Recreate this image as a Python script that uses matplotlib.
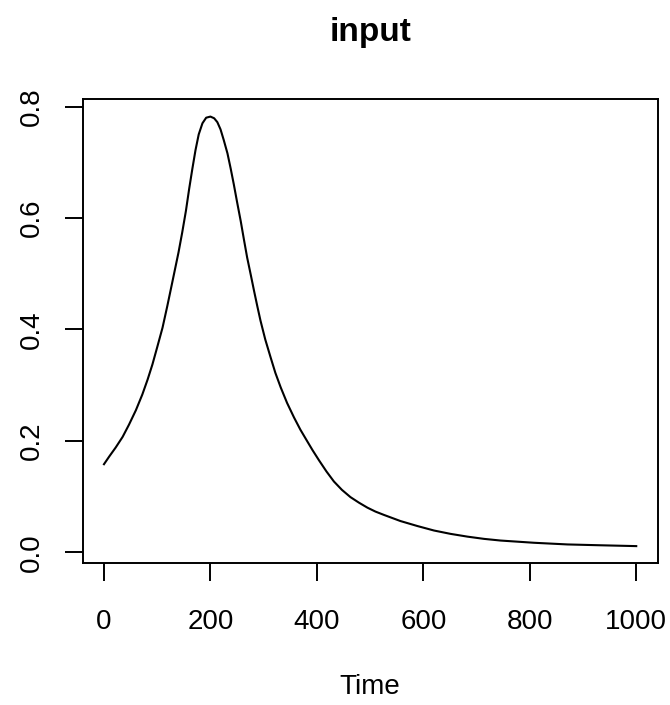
import matplotlib
matplotlib.use("Agg")
import matplotlib.pyplot as plt

time = [0, 10, 22, 35, 47, 60, 72, 82, 91, 100, 110, 119, 128, 140, 147,
        154, 160, 166, 172, 178, 185, 192, 200, 207, 213, 219, 225, 232,
        238, 244, 250, 257, 263, 269, 276, 282, 288, 294, 303, 313, 322,
        332, 344, 357, 369, 382, 392, 404, 418, 432, 447, 463, 479, 495,
        510, 526, 557, 589, 620, 651, 683, 714, 745, 808, 871, 933, 1000]
values = [0.158, 0.172, 0.188, 0.207, 0.229, 0.255, 0.283, 0.310, 0.337,
          0.368, 0.403, 0.442, 0.483, 0.538, 0.574, 0.613, 0.652, 0.688,
          0.722, 0.750, 0.770, 0.780, 0.782, 0.779, 0.772, 0.759, 0.740,
          0.716, 0.689, 0.660, 0.629, 0.594, 0.561, 0.529, 0.497, 0.469,
          0.442, 0.416, 0.382, 0.350, 0.322, 0.296, 0.268, 0.242, 0.220,
          0.199, 0.183, 0.165, 0.145, 0.127, 0.112, 0.099, 0.089, 0.080,
          0.073, 0.067, 0.056, 0.047, 0.039, 0.033, 0.028, 0.024, 0.021,
          0.017, 0.014, 0.0125, 0.011]
xticks = [0, 200, 400, 600, 800, 1000]
yticks = [0.0, 0.2, 0.4, 0.6, 0.8]
title = "input"
xlabel = "Time"

plt.rcParams['font.family'] = ['Liberation Sans', 'DejaVu Sans']

fig = plt.figure(figsize=(6.70, 7.05), dpi=100)
ax = fig.add_axes([0.1234, 0.201, 0.858, 0.658])
ax.plot(time, values, color='black', linewidth=1.5,
        solid_joinstyle='round')

xr = max(time) - min(time)
yr = max(values) - min(values)
ax.set_xlim(min(time) - 0.04 * xr, max(time) + 0.04 * xr)
ax.set_ylim(min(values) - 0.04 * yr, max(values) + 0.04 * yr)

ax.set_xticks(xticks)
ax.set_xticklabels([str(v) for v in xticks])
ax.set_yticks(yticks)
ax.set_yticklabels([f"{v:.1f}" for v in yticks], rotation=90, va='center')

ax.tick_params(axis='both', direction='out', length=13, width=1.4,
               labelsize=20, color='black')
ax.tick_params(axis='x', pad=20)
ax.tick_params(axis='y', pad=14)

for s in ax.spines.values():
    s.set_linewidth(1.4)

ax.set_xlabel(xlabel, fontsize=20, labelpad=28)
ax.set_title(title, fontsize=24, fontweight='bold', pad=42)

fig.savefig("out.png", dpi=100)
